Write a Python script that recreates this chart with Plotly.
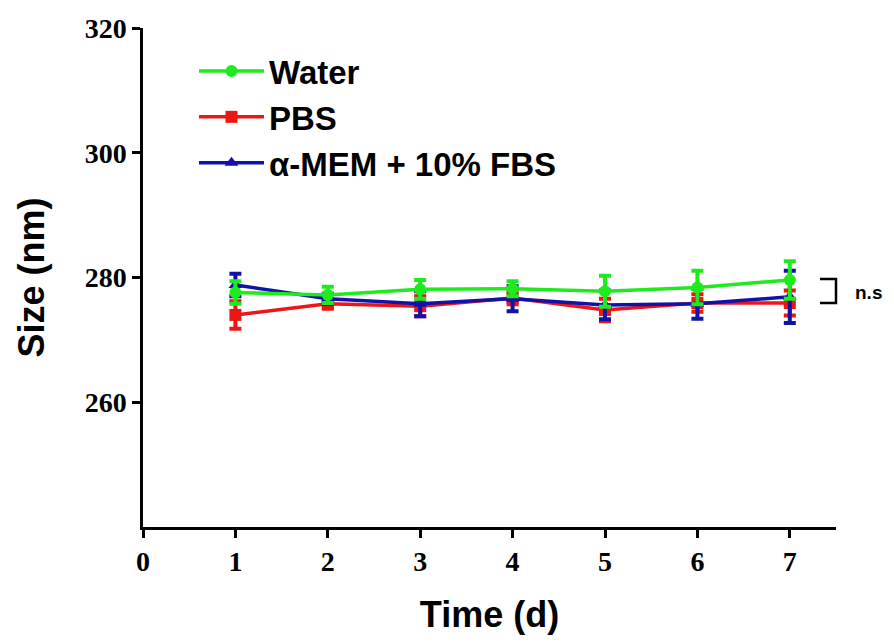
import plotly.graph_objects as go

days = [1, 2, 3, 4, 5, 6, 7]
water = [277.6, 277.2, 278.1, 278.2, 277.8, 278.4, 279.6]
water_err = [1.8, 1.3, 1.5, 1.2, 2.5, 2.7, 3.0]
pbs = [274.0, 275.8, 275.4, 276.7, 274.8, 275.9, 275.9]
pbs_err = [2.2, 0.8, 1.6, 1.0, 1.8, 1.4, 2.0]
mem = [278.8, 276.6, 275.8, 276.6, 275.6, 275.8, 276.9]
mem_err = [1.8, 0.8, 2.0, 2.0, 2.3, 2.4, 4.2]
x_ticks = [0, 1, 2, 3, 4, 5, 6, 7]
y_ticks = [260, 280, 300, 320]

GREEN = "#1EEB1E"
RED = "#EE1515"
BLUE = "#1212A8"

fig = go.Figure()

def add(name, y, e, color, symbol, rank, group):
    fig.add_trace(go.Scatter(
        x=days, y=y, name=name, mode="lines+markers",
        line=dict(color=color, width=3.5),
        marker=dict(color=color, symbol=symbol, size=12),
        error_y=dict(type="data", array=e, color=color, thickness=4, width=6),
        legendrank=rank, legendgroup=group,
    ))

add("PBS", pbs, pbs_err, RED, "square", 2, "b")
add("α-MEM + 10% FBS", mem, mem_err, BLUE, "triangle-up", 3, "c")
add("Water", water, water_err, GREEN, "circle", 1, "a")

L, R, T, B = 143, 58, 28, 115
W, H = 894, 642
pw = W - L - R
ph = H - T - B

def px(xp):
    return (xp - L) / pw

def py(yp):
    return 1 - (yp - T) / ph

# n.s bracket
fig.add_shape(type="path", xref="paper", yref="paper",
              path=f"M {px(820)},{py(279)} L {px(836)},{py(279)} L {px(836)},{py(303)} L {px(820)},{py(303)}",
              line=dict(color="black", width=2.5))
fig.add_annotation(xref="paper", yref="paper", x=px(853), y=py(292), text="<b>n.s</b>",
                   showarrow=False, xanchor="left", yanchor="middle",
                   font=dict(family="Liberation Sans, Arial", size=19, color="black"))

fig.update_layout(
    width=W, height=H,
    margin=dict(l=L, r=R, t=T, b=B),
    paper_bgcolor="white", plot_bgcolor="white",
    showlegend=True,
    legend=dict(x=px(194), y=py(43), xanchor="left", yanchor="top",
                font=dict(family="Liberation Sans, Arial", size=33, color="black", weight="bold"),
                bgcolor="rgba(0,0,0,0)", tracegroupgap=0, itemwidth=65),
    xaxis=dict(range=[0, 7.5], tickvals=x_ticks, showgrid=False, zeroline=False,
               showline=True, linecolor="black", linewidth=2.5,
               ticks="outside", ticklen=8, tickwidth=2.5, tickcolor="black",
               tickfont=dict(family="Liberation Serif, Times New Roman", size=28, color="black", weight="bold"),
               title=dict(text="<b>Time (d)</b>", standoff=26,
                          font=dict(family="Liberation Sans, Arial", size=36, color="black"))),
    yaxis=dict(range=[240, 320], tickvals=y_ticks, showgrid=False, zeroline=False,
               showline=True, linecolor="black", linewidth=2.5,
               ticks="outside", ticklen=8, tickwidth=2.5, tickcolor="black",
               tickfont=dict(family="Liberation Serif, Times New Roman", size=28, color="black", weight="bold"),
               title=dict(text="<b>Size (nm)</b>", standoff=30,
                          font=dict(family="Liberation Sans, Arial", size=36, color="black"))),
)

fig.write_html("out.html")
